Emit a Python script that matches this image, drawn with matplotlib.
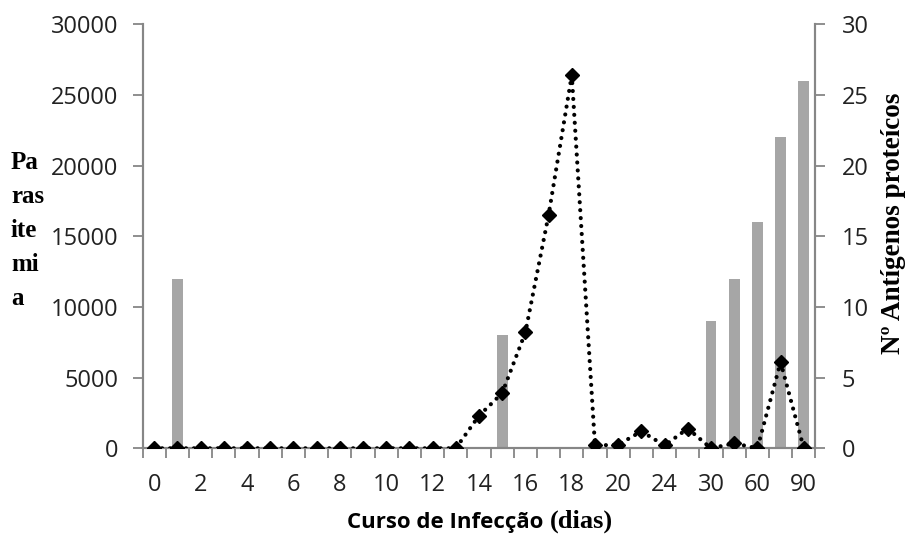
import matplotlib
matplotlib.use("Agg")
import matplotlib.pyplot as plt
import numpy as np

# Data
categories = ['0', '1', '2', '3', '4', '5', '6', '7', '8', '9', '10', '11', '12', '13',
              '14', '15', '16', '17', '18', '19', '20', '22', '24', '27', '30', '45',
              '60', '75', '90']
parasitemia = [0, 0, 0, 0, 0, 0, 0, 0, 0, 0, 0, 0, 0, 0,
               2300, 3900, 8200, 16500, 26400, 200, 250, 1200, 200, 1400, 0, 350,
               0, 6100, 0]
antigenos = [0, 12, 0, 0, 0, 0, 0, 0, 0, 0, 0, 0, 0, 0,
             0, 8, 0, 0, 0, 0, 0, 0, 0, 0, 9, 12,
             16, 22, 26]
left_ticks = [0, 5000, 10000, 15000, 20000, 25000, 30000]
right_ticks = [0, 5, 10, 15, 20, 25, 30]

gray = '#868686'
fig = plt.figure(figsize=(9.08, 5.34), dpi=100)
ax = fig.add_axes([0.157, 0.1605, 0.741, 0.794])
ax2 = ax.twinx()

x = np.arange(len(categories))
ax2.bar(x, antigenos, width=0.47, color='#a6a6a6', zorder=2)
ax.plot(x, parasitemia, linestyle=(0, (0.01, 1.9)), color='black', linewidth=3,
        dash_capstyle='round', marker='D', markersize=7, zorder=3)

ax.set_zorder(ax2.get_zorder() + 1)
ax.patch.set_visible(False)

ax.set_xlim(-0.5, len(categories) - 0.5)
ax.set_ylim(0, 30000)
ax2.set_ylim(0, 30)
ax.set_yticks(left_ticks)
ax2.set_yticks(right_ticks)

ax.set_xticks(x)
ax.set_xticklabels([c if i % 2 == 0 else '' for i, c in enumerate(categories)])
ax.set_xticks(np.arange(-0.5, len(categories), 1.0), minor=True)
ax.tick_params(axis='x', which='major', length=0, pad=18)
ax.tick_params(axis='x', which='minor', length=7, width=1.3, color=gray, direction='out')

for a in (ax, ax2):
    for s in a.spines.values():
        s.set_color(gray)
        s.set_linewidth(1.5)
    a.spines['top'].set_visible(False)

ax.tick_params(axis='y', length=7, width=1.3, color=gray, pad=10.5)
ax2.tick_params(axis='y', length=7, width=1.3, color=gray, pad=12)

font = 'Open Sans'
for lab in ax.get_xticklabels() + ax.get_yticklabels() + ax2.get_yticklabels():
    lab.set_fontfamily(font)
    lab.set_fontsize(17)
    lab.set_color('#222222')

# x-axis title: sans part + serif "(dias)"
ybase = 1 - 528 / 534
t1 = fig.text(0, ybase, 'Curso de Infecção ', fontfamily=font, fontsize=16,
              fontweight='bold', ha='left', va='baseline')
t2 = fig.text(0, ybase, '(dias)', fontfamily='Liberation Serif', fontsize=19,
              fontweight='bold', ha='left', va='baseline')
fig.canvas.draw()
r = fig.canvas.get_renderer()
w1 = t1.get_window_extent(r).width
w2 = t2.get_window_extent(r).width
start = 480 - (w1 + w2) / 2
t1.set_x(start / 908)
t2.set_x((start + w1) / 908)

fig.text(0.012, 0.718, 'Pa\nras\nite\nmi\na', fontfamily='Liberation Serif',
         fontweight='bold', fontsize=18, va='top', ha='left', linespacing=1.62)
fig.text(893 / 908, 1 - 223 / 534, 'Nº Antígenos proteícos', rotation=90,
         fontfamily='Liberation Serif', fontweight='bold', fontsize=19.5,
         ha='center', va='center')

fig.savefig('out.png', dpi=100)
